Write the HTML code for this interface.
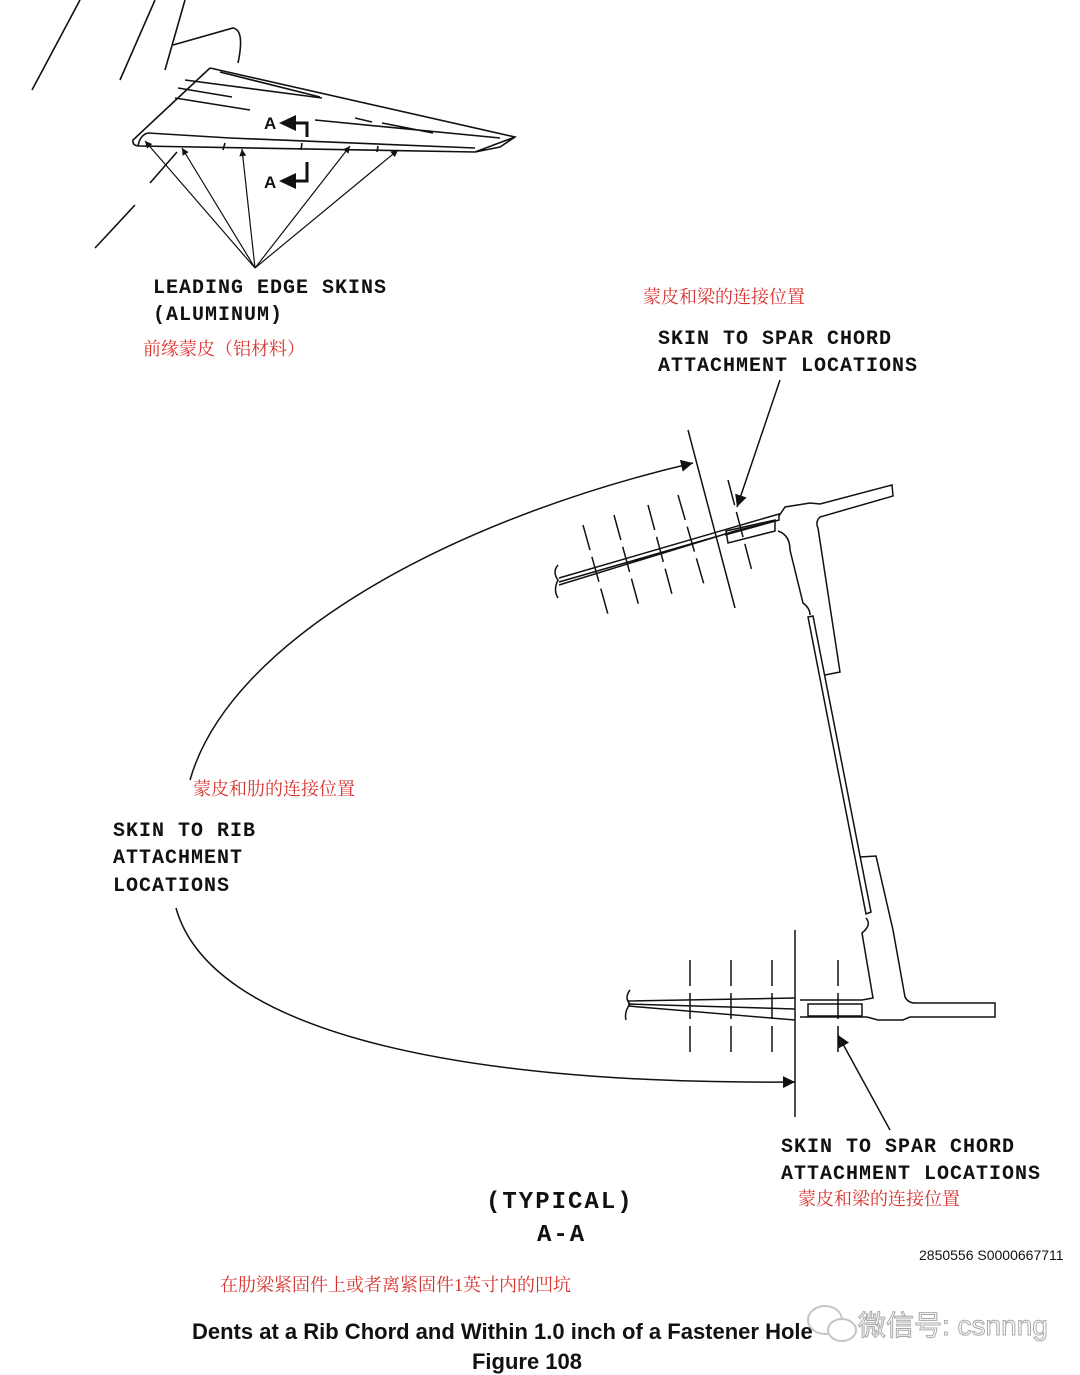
<!DOCTYPE html>
<html><head><meta charset="utf-8"><style>
html,body{margin:0;padding:0;background:#fff}
svg{display:block}
.m{font-family:"Liberation Mono",monospace;font-size:20px;letter-spacing:1px;fill:#111;font-weight:bold}
.cn{font-family:"Liberation Serif","Noto Serif CJK SC",serif;font-size:18px;fill:#d8322e}
.t{font-family:"Liberation Sans",sans-serif;font-weight:bold;fill:#111}
</style></head><body>
<svg width="1080" height="1375" viewBox="0 0 1080 1375" xmlns="http://www.w3.org/2000/svg">
<defs><marker id="ar" viewBox="0 0 10 10" refX="10" refY="5" markerWidth="9" markerHeight="7" orient="auto-start-reverse" markerUnits="userSpaceOnUse"><path d="M0,0 L10,5 L0,10z" fill="#111"/></marker>
<marker id="ar2" viewBox="0 0 10 10" refX="10" refY="5" markerWidth="20" markerHeight="12" orient="auto" markerUnits="userSpaceOnUse"><path d="M0,0 L10,5 L0,10z" fill="#111"/></marker></defs>
<g fill="none" stroke="#111" stroke-width="1.6">
<path d="M32,90 L80,0 M120,80 L155,0 M165,70 L185,0 M173,45 L233,28 Q245,30 238,63 M150,183 L177,152 M95,248 L135,205"/>
<path d="M210,68 L515,137 L500,147 L475,152 M210,68 Q165,110 133,140 Q132,146 140,146 L475,152 L515,137"/>
<path d="M138,146 Q140,135 148,133 L230,138 L475,148"/>
<path d="M185,80 L322,98 M178,88 L232,97 M175,98 L250,110 M220,72 L320,97 M315,120 L500,138 M355,118 L372,122 M382,123 L433,133"/>
<path d="M225,143 L223,150 M302,143 L301,150 M378,146 L377,152"/>
<g stroke-width="1.2">
<line x1="255" y1="268" x2="145" y2="141" marker-end="url(#ar)"/>
<line x1="255" y1="268" x2="182" y2="148" marker-end="url(#ar)"/>
<line x1="255" y1="268" x2="242" y2="149" marker-end="url(#ar)"/>
<line x1="255" y1="268" x2="350" y2="146" marker-end="url(#ar)"/>
<line x1="255" y1="268" x2="398" y2="150" marker-end="url(#ar)"/>
</g>
<path d="M290,123 L307,123 L307,137 M290,181 L307,181 L307,162" stroke-width="3"/>
<path d="M279,123 L296,115 L296,131z M279,181 L296,173 L296,189z" fill="#111" stroke="none"/>
</g>
<text class="t" x="264" y="129" font-size="17">A</text>
<text class="t" x="264" y="188" font-size="17">A</text>
<text class="m" x="153" y="293">LEADING EDGE SKINS</text>
<text class="m" x="153" y="320">(ALUMINUM)</text>
<text class="cn" x="143" y="355">前缘蒙皮（铝材料）</text>
<text class="cn" x="643" y="303">蒙皮和梁的连接位置</text>
<text class="m" x="658" y="344">SKIN TO SPAR CHORD</text>
<text class="m" x="658" y="371">ATTACHMENT LOCATIONS</text>
<text class="cn" x="193" y="795">蒙皮和肋的连接位置</text>
<text class="m" x="113" y="836">SKIN TO RIB</text>
<text class="m" x="113" y="863">ATTACHMENT</text>
<text class="m" x="113" y="891">LOCATIONS</text>
<text class="m" x="781" y="1152">SKIN TO SPAR CHORD</text>
<text class="m" x="781" y="1179">ATTACHMENT LOCATIONS</text>
<text class="cn" x="798" y="1205">蒙皮和梁的连接位置</text>
<text class="m" x="486" y="1208" style="font-size:24px;letter-spacing:2px">(TYPICAL)</text>
<text class="m" x="537" y="1241" style="font-size:24px;letter-spacing:2px">A-A</text>
<g fill="none" stroke="#111" stroke-width="1.5">
<path d="M176,908 C210,1030 450,1085 795,1082" marker-end="url(#ar2)"/>
<path d="M190,780 C230,640 450,520 693,463" marker-end="url(#ar2)"/>
<line x1="688" y1="430" x2="735" y2="608"/>
<line x1="780" y1="380" x2="737" y2="507" marker-end="url(#ar2)"/>
<g stroke-dasharray="26,7">
<line x1="583" y1="525" x2="609" y2="618"/><line x1="614" y1="515" x2="640" y2="610"/>
<line x1="648" y1="505" x2="673" y2="598"/><line x1="678" y1="495" x2="705" y2="588"/>
<line x1="728" y1="480" x2="753" y2="575"/>
<line x1="690" y1="960" x2="690" y2="1057"/><line x1="731" y1="960" x2="731" y2="1057"/>
<line x1="772" y1="960" x2="772" y2="1057"/><line x1="838" y1="960" x2="838" y2="1057"/>
</g>
<path d="M558,565 Q552,572 558,580 Q553,590 558,598"/>
<path d="M559,578 L779,514 L779,520 L725,535 M559,582 L715,537 M559,585 L735,531 L775,521"/>
<path d="M726,531 L775,520 L775,531 L728,543z"/>
<path d="M779,516 L785,507 L810,503 L820,504 L892,485 L893,496 L820,517 Q815,522 818,528 L829,600 L840,672 L825,675 M778,531 Q790,535 790,550 L803,603 Q810,608 810,615"/>
<path d="M808,617 L813,616 L871,912 L866,914z"/>
<path d="M860,857 L876,856 L893,930 L905,997 Q908,1003 915,1003 L995,1003 L995,1017 L910,1017 L903,1020 L878,1020 L867,1017 L800,1017 M866,918 Q872,925 862,933 L873,998 L862,1000 L800,1000"/>
<path d="M808,1004 L862,1004 L862,1016 L808,1016z"/>
<path d="M630,990 Q624,998 630,1004 Q624,1012 626,1020"/>
<path d="M628,1001 L795,998 M628,1004 L795,1009 M628,1006 L795,1020"/>
<line x1="795" y1="930" x2="795" y2="1117"/>
<line x1="890" y1="1130" x2="838" y2="1035" marker-end="url(#ar2)"/>
</g>
<text x="919" y="1260" font-family="Liberation Sans,sans-serif" font-size="14" fill="#111">2850556 S0000667711</text>
<text class="cn" x="220" y="1291">在肋梁紧固件上或者离紧固件1英寸内的凹坑</text>
<text class="t" x="192" y="1339" font-size="22">Dents at a Rib Chord and Within 1.0 inch of a Fastener Hole</text>
<text class="t" x="527" y="1369" font-size="22" text-anchor="middle">Figure 108</text>
<g opacity="0.85">
<ellipse cx="825" cy="1320" rx="17" ry="14" fill="#fff" stroke="#bbb" stroke-width="2"/>
<ellipse cx="842" cy="1330" rx="14" ry="11" fill="#fff" stroke="#bbb" stroke-width="2"/>
<text x="858" y="1335" font-family="Liberation Sans,'Noto Sans CJK SC',sans-serif" font-size="28" fill="#fff" stroke="#999" stroke-width="1">微信号: csnnng</text>
</g>
</svg>
</body></html>
